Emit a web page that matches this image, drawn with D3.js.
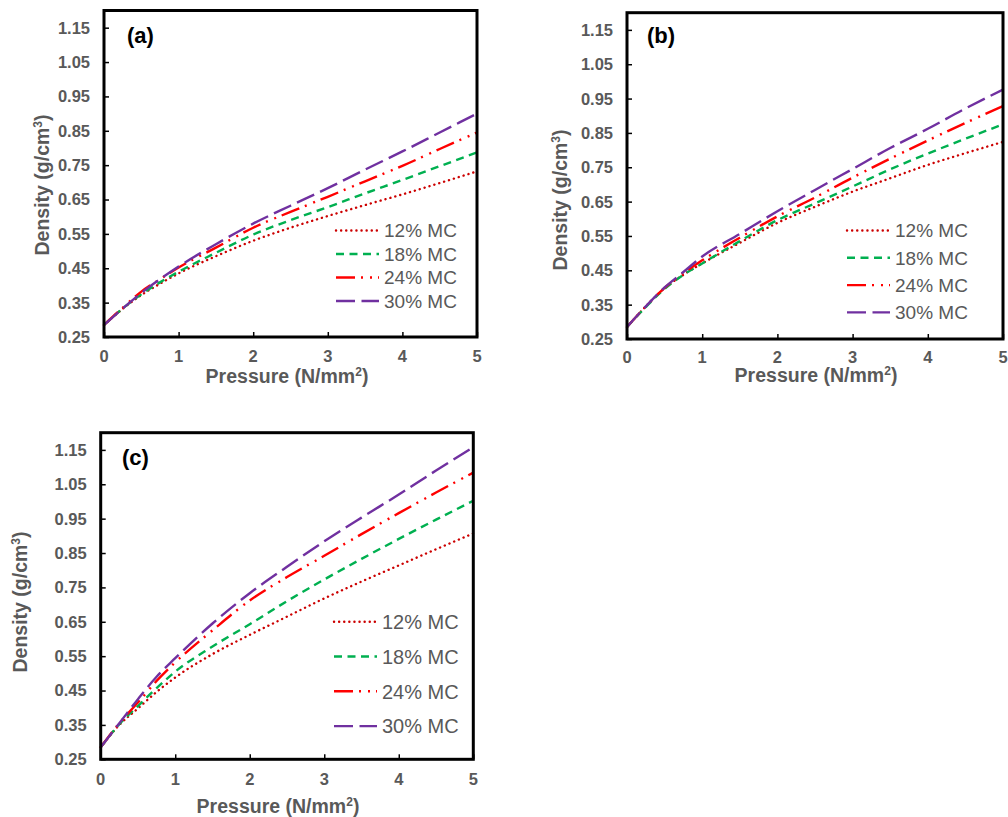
<!DOCTYPE html>
<html>
<head>
<meta charset="utf-8">
<script src="https://cdn.jsdelivr.net/npm/d3@7"></script>
<style>
body { margin:0; background:#fff; }
svg text { font-family:"Liberation Sans", Arial, sans-serif; }
.tick-label { font-size:16.5px; font-weight:bold; fill:#595959; }
.axis-title { font-size:19.5px; font-weight:bold; fill:#595959; }
.legend-text { font-size:19px; fill:#595959; }
.panel-label { font-size:22px; font-weight:bold; fill:#000; }
</style>
</head>
<body>
<svg width="1008" height="817"></svg>
<script>
// pressure values (N/mm2) where the curves were read
var pressure=[0,0.25,0.5,0.75,1,1.5,2,2.5,3,3.5,4,4.5,5];
var seriesNames=["12% MC","18% MC","24% MC","30% MC"];
var yTicks=[0.25,0.35,0.45,0.55,0.65,0.75,0.85,0.95,1.05,1.15];
var xTicks=[0,1,2,3,4,5];

// panel (a)
var a12=[0.285,0.332,0.372,0.405,0.435,0.485,0.530,0.568,0.602,0.634,0.665,0.698,0.732];
var a18=[0.285,0.333,0.374,0.409,0.440,0.495,0.548,0.590,0.628,0.668,0.707,0.747,0.787];
var a24=[0.285,0.335,0.382,0.418,0.452,0.510,0.568,0.614,0.658,0.703,0.748,0.797,0.845];
var a30=[0.285,0.333,0.378,0.418,0.455,0.520,0.580,0.632,0.683,0.737,0.790,0.845,0.900];
// panel (b)
var b12=[0.285,0.345,0.398,0.437,0.470,0.530,0.588,0.635,0.679,0.718,0.757,0.791,0.824];
var b18=[0.285,0.343,0.396,0.437,0.470,0.535,0.596,0.645,0.694,0.744,0.790,0.833,0.875];
var b24=[0.285,0.345,0.399,0.441,0.479,0.545,0.607,0.662,0.720,0.775,0.828,0.879,0.928];
var b30=[0.285,0.345,0.400,0.445,0.490,0.556,0.622,0.684,0.745,0.806,0.862,0.921,0.976];
// panel (c)
var c12=[0.285,0.350,0.398,0.446,0.488,0.556,0.612,0.665,0.718,0.767,0.814,0.861,0.907];
var c18=[0.285,0.352,0.405,0.457,0.505,0.578,0.643,0.710,0.773,0.833,0.891,0.947,1.002];
var c24=[0.285,0.355,0.415,0.478,0.532,0.625,0.712,0.780,0.842,0.905,0.966,1.026,1.084];
var c30=[0.285,0.355,0.425,0.490,0.544,0.645,0.733,0.810,0.884,0.953,1.020,1.090,1.158];

var styles=[
	{color:"#CC0000",dash:"0.1,5",cap:"round"},
	{color:"#00B050",dash:"8,5.5",cap:"butt"},
	{color:"#FF0000",dash:"19,6,2,7,2,6",cap:"butt"},
	{color:"#7030A0",dash:"19,6.5",cap:"butt"}
];

var panels=[
	{label:"(a)",series:[a12,a18,a24,a30],left:104,top:10.5,right:477,bottom:337,
		labelX:127,labelY:43,xLabDy:25,xTitleY:383,yTitleX:42,yTitleY:185,xTitleX:287,
		legX:336,legY:230.5,legStep:23.5,legSize:19},
	{label:"(b)",series:[b12,b18,b24,b30],left:627,top:12.7,right:1003,bottom:339,
		labelX:647,labelY:43,xLabDy:23.5,xTitleY:382,yTitleX:560,yTitleY:200,xTitleX:816,
		legX:847,legY:230.5,legStep:27.3,legSize:19},
	{label:"(c)",series:[c12,c18,c24,c30],left:100.7,top:432.7,right:473.3,bottom:759.3,
		labelX:122,labelY:465,xLabDy:26,xTitleY:813,yTitleX:20,yTitleY:602,xTitleX:278,
		legX:334,legY:621.7,legStep:34.8,legSize:20}
];

var svg=d3.select("svg");

function drawPanel(p) {
	var x=d3.scaleLinear().domain([0,5]).range([p.left,p.right]);
	var y=d3.scaleLinear().domain([0.25,1.2]).range([p.bottom,p.top]);
	var g=svg.append("g");

	var line=d3.line()
		.x(function(d,i) {return x(pressure[i]);})
		.y(function(d) {return y(d);})
		.curve(d3.curveMonotoneX);

	g.selectAll(".curve").data(p.series).enter()
		.append("path")
		.attr("d",line)
		.attr("fill","none")
		.attr("stroke",function(d,i) {return styles[i].color;})
		.attr("stroke-width",2.4)
		.attr("stroke-dasharray",function(d,i) {return styles[i].dash;})
		.attr("stroke-linecap",function(d,i) {return styles[i].cap;});

	// inside ticks
	var yAxis=d3.axisRight(y).tickValues(yTicks).tickSize(5).tickFormat("");
	g.append("g").attr("transform","translate("+p.left+",0)").call(yAxis)
		.call(function(s) {s.select(".domain").remove();
			s.selectAll("line").attr("stroke","#000").attr("stroke-width",1.5);});
	var xAxis=d3.axisTop(x).tickValues(xTicks).tickSize(5).tickFormat("");
	g.append("g").attr("transform","translate(0,"+p.bottom+")").call(xAxis)
		.call(function(s) {s.select(".domain").remove();
			s.selectAll("line").attr("stroke","#000").attr("stroke-width",1.5);});

	g.selectAll(".ylab").data(yTicks).enter()
		.append("text").classed("tick-label",true)
		.attr("x",p.left-14).attr("y",function(d) {return y(d);})
		.attr("dy","0.36em").attr("text-anchor","end")
		.text(d3.format(".2f"));
	g.selectAll(".xlab").data(xTicks).enter()
		.append("text").classed("tick-label",true)
		.attr("x",function(d) {return x(d);}).attr("y",p.bottom+p.xLabDy)
		.attr("text-anchor","middle")
		.text(function(d) {return d;});

	g.append("rect")
		.attr("x",p.left).attr("y",p.top)
		.attr("width",p.right-p.left).attr("height",p.bottom-p.top)
		.attr("fill","none").attr("stroke","#000").attr("stroke-width",3);

	var xt=g.append("text").classed("axis-title",true)
		.attr("x",p.xTitleX).attr("y",p.xTitleY).attr("text-anchor","middle");
	xt.append("tspan").text("Pressure (N/mm");
	xt.append("tspan").attr("dy","-7").style("font-size","12px").text("2");
	xt.append("tspan").attr("dy","7").text(")");

	var yt=g.append("text").classed("axis-title",true)
		.attr("text-anchor","middle")
		.attr("transform","translate("+p.yTitleX+","+p.yTitleY+") rotate(-90)")
		.attr("dy","0.35em");
	yt.append("tspan").text("Density (g/cm");
	yt.append("tspan").attr("dy","-7").style("font-size","12px").text("3");
	yt.append("tspan").attr("dy","7").text(")");

	g.append("text").classed("panel-label",true)
		.attr("x",p.labelX).attr("y",p.labelY).text(p.label);

	var leg=g.selectAll(".leg").data(seriesNames).enter().append("g")
		.attr("transform",function(d,i) {return "translate("+p.legX+","+(p.legY+i*p.legStep)+")";});
	leg.append("line")
		.attr("x1",0).attr("x2",43).attr("y1",0).attr("y2",0)
		.attr("stroke",function(d,i) {return styles[i].color;})
		.attr("stroke-width",2.4)
		.attr("stroke-dasharray",function(d,i) {return styles[i].dash;})
		.attr("stroke-linecap",function(d,i) {return styles[i].cap;});
	leg.append("text").classed("legend-text",true)
		.attr("x",48).attr("dy","0.36em")
		.style("font-size",p.legSize+"px")
		.text(function(d) {return d;});
}

panels.forEach(drawPanel);
</script>
</body>
</html>
